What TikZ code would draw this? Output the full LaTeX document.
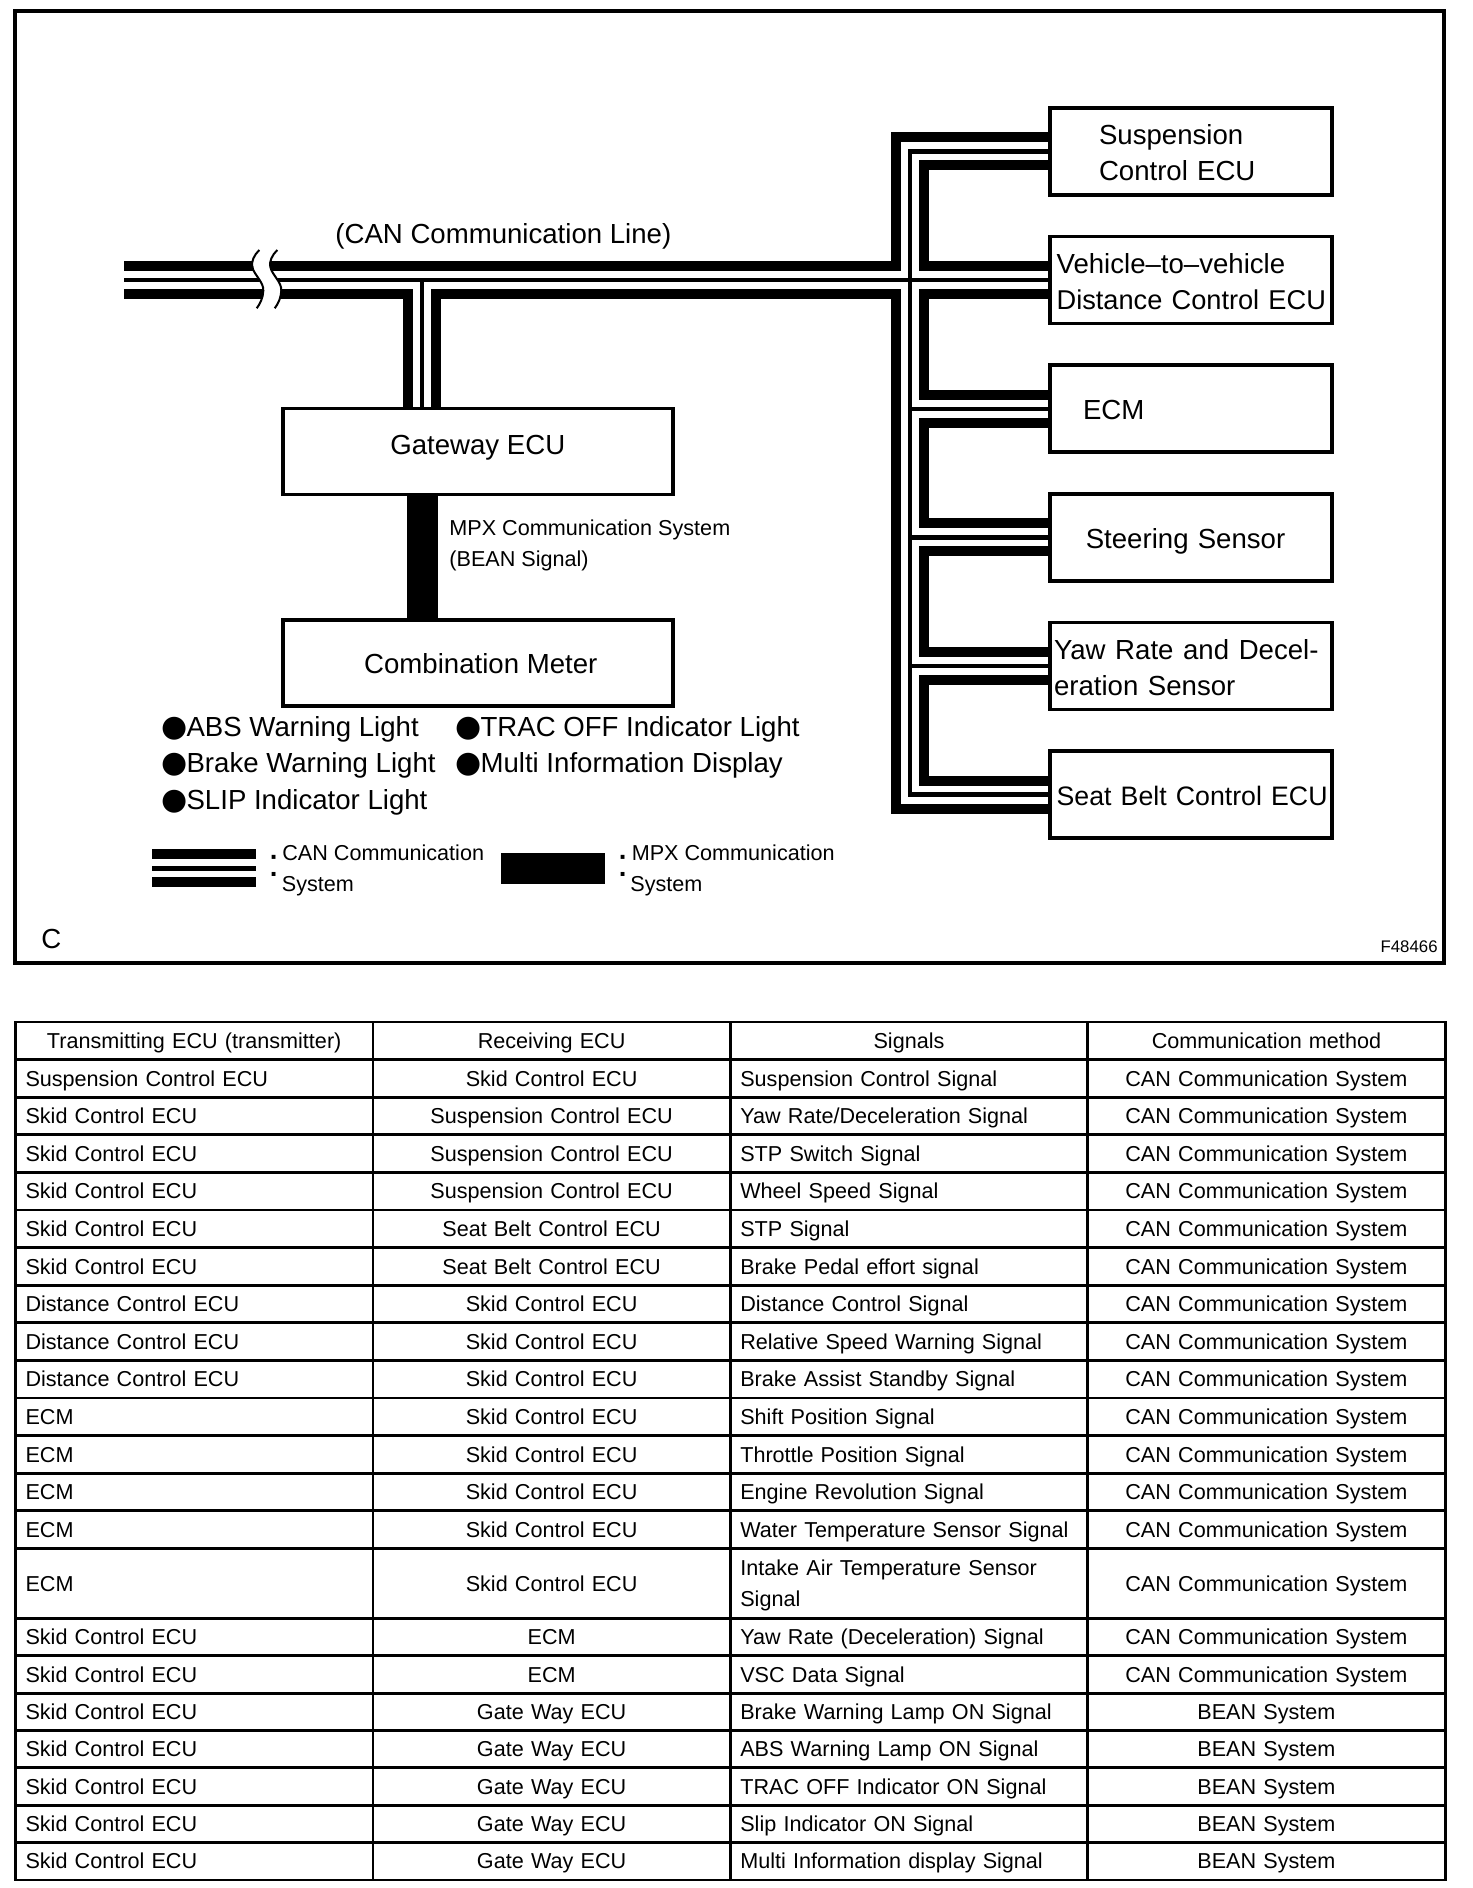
\documentclass[tikz,border=0pt]{standalone}
\usepackage{fontspec}
\setmainfont{Liberation Sans}
\newfontfamily\symbolfont{DejaVu Sans}
\usetikzlibrary{positioning}

\newcommand{\labelfont}{\fontsize{13.8}{18}\selectfont}
\newcommand{\smallfont}{\fontsize{10.8}{15.6}\selectfont}
\newcommand{\lampdot}{\raisebox{-0.1pt}{\fontsize{15}{15}\symbolfont ●}\hspace{-0.5pt}}
\newcommand{\breakwave}{(259.3,250) .. controls (254,255) and (251,262) .. (252.3,267) .. controls (254,275) and (264,282) .. (263.3,291) .. controls (263,298) and (260,304) .. (256.7,308.3)}

% one line of the table: name, line above, height, four cells
\newcommand{\tablerow}[7]{
    \node[cellL, minimum height=#3, below=0pt of #2a] (#1a) {#4};
    \node[cellC, minimum height=#3, right=0pt of #1a] (#1b) {#5};
    \node[cellL, minimum height=#3, right=0pt of #1b] (#1c) {#6};
    \node[cellC, minimum height=#3, right=0pt of #1c] (#1d) {#7};
}

\begin{document}
\begin{tikzpicture}[
            x=0.5pt, y=-0.5pt,
            node distance=20.8pt,
            unitbox/.style={draw, line width=1.8pt, outer sep=0pt, inner ysep=0pt, inner xsep=#1, text width=141pt-2*#1, minimum height=43.5pt, align=left, font=\labelfont,
                execute at begin node=\rule{0pt}{14.6pt}, execute at end node=\rule[-3.5pt]{0pt}{0pt}},
            busbox/.style={draw, line width=1.8pt, outer sep=0pt, inner ysep=0pt, minimum width=195pt, minimum height=43pt, align=center, font=\labelfont,
                execute at begin node=\rule{0pt}{14pt}, execute at end node=\rule[-3.5pt]{0pt}{0pt}},
            canthick/.style={line width=5pt},
            canthin/.style={line width=2.2pt},
            mpxline/.style={line width=15.5pt},
            title/.style={anchor=base west, inner sep=0pt, font=\labelfont},
            note/.style={anchor=base west, inner sep=0pt, font=\smallfont},
            colondot/.style={inner sep=0pt, font=\fontsize{20}{20}\selectfont},
            cell/.style={draw, line width=1.4pt, outer sep=0pt, inner xsep=5pt, inner ysep=0pt, text width=168.7pt, font=\smallfont,
                execute at begin node=\rule{0pt}{12pt}, execute at end node=\rule[-4.4pt]{0pt}{0pt}},
            cellL/.style={cell, align=left},
            cellC/.style={cell, align=center}
        ]
            \useasboundingbox (0,0) rectangle (1472,1888);

            \draw[line width=2pt] (14.5,11) rectangle (1444,962.5);

            \node[unitbox=24.6pt] (susp) at (1190.8,151.5) {Suspension\\Control ECU};
            \node[unitbox=3.4pt, below=of susp] (dist) {Vehicle–to–vehicle\\\mbox{\fontsize{13.6}{18}\selectfont Distance Control ECU}};
            \node[unitbox=16.6pt, below=of dist] (ecm) {ECM};
            \node[unitbox=18pt, below=of ecm] (steer) {Steering Sensor};
            \node[unitbox=2.1pt, below=of steer] (yaw) {\spaceskip=4.8pt Yaw Rate and Decel-\\eration Sensor};
            \node[unitbox=3.4pt, below=of yaw] (seat) {\mbox{\fontsize{13.35}{18}\selectfont Seat Belt Control ECU}};

            \node[busbox] (gateway) at (477.8,451.4) {Gateway ECU\rule[-11pt]{0pt}{0pt}};
            \node[busbox, below=62.9pt of gateway] (meter) {\hspace*{3pt}Combination Meter};

            \coordinate (canEnd) at (124,0);
            \coordinate (canTap) at (422,0);
            \coordinate (tapLeft) at (408,0);
            \coordinate (tapRight) at (436,0);
            \coordinate (busOuter) at (896,0);
            \coordinate (busMid) at (910,0);
            \coordinate (busInner) at (924,0);
            \foreach \b in {susp,dist,ecm,steer,yaw,seat} {
                \coordinate (\b Up) at ([yshift=7pt]\b.west);
                \coordinate (\b Dn) at ([yshift=-7pt]\b.west);
            }

            % thick lines of the bus
            \draw[canthick] (canEnd |- distUp) -- (busOuter |- distUp) |- (suspUp);
            \draw[canthick] (canEnd |- distDn) -| (tapLeft |- gateway.north);
            \draw[canthick] (tapRight |- gateway.north) |- (busOuter |- distDn) |- (seatDn);
            \foreach \a/\b in {susp/dist, dist/ecm, ecm/steer, steer/yaw, yaw/seat}
                \draw[canthick] (\a Dn) -- (busInner |- \a Dn) |- (\b Up);

            % thin line of the bus
            \draw[canthin] (canEnd |- dist.west) -- (dist.west);
            \draw[canthin] (canTap |- dist.west) -- (canTap |- gateway.north);
            \draw[canthin] (susp.west) -- (busMid |- susp.west) -- (busMid |- seat.west) -- (seat.west);
            \foreach \b in {ecm,steer,yaw}
                \draw[canthin] (busMid |- \b.west) -- (\b.west);

            \draw[mpxline] (canTap |- gateway.south) -- (canTap |- meter.north);

            % break in the line
            \draw[white, line width=8pt, xshift=4.5pt] \breakwave;
            \draw[line width=1pt] \breakwave;
            \draw[line width=1pt, xshift=9pt] \breakwave;

            \node[title] (canTitle) at (335,244) {(CAN Communication Line)};
            \node[note] (mpxTitle) at (449,535) {MPX Communication System};
            \node[note] (beanTitle) at (449,566) {(BEAN Signal)};

            \node[title] (lampAbs) at (161,736) {\lampdot ABS Warning Light};
            \node[title] (lampBrake) at (161,772.7) {\lampdot Brake Warning Light};
            \node[title] (lampSlip) at (161,809) {\lampdot SLIP Indicator Light};
            \node[title] (lampTrac) at (455,736) {\lampdot TRAC OFF Indicator Light};
            \node[title] (lampMulti) at (455,772.7) {\lampdot Multi Information Display};

            % legend
            \coordinate (keyA) at (152,868.3);
            \coordinate (keyB) at (256,868.3);
            \draw[canthick] ([yshift=7pt]keyA) -- ([yshift=7pt]keyB);
            \draw[canthin] (keyA) -- (keyB);
            \draw[canthick] ([yshift=-7pt]keyA) -- ([yshift=-7pt]keyB);
            \node[colondot] (canColon) at (274,866) {:};
            \node[note] (canKey) at (282,860.7) {CAN Communication};
            \node[note] (canKeyB) at (281.5,891) {System};

            \node[fill=black, inner sep=0pt, minimum width=52pt, minimum height=15.5pt] (mpxKey) at (553,868.2) {};
            \node[colondot] (mpxColon) at (622.7,866) {:};
            \node[note] (mpxKeyA) at (631.4,860.7) {MPX Communication};
            \node[note] (mpxKeyB) at (630,891) {System};

            \node[title] (figC) at (41,948) {C};
            \node[anchor=base east, inner sep=0pt, font=\fontsize{8.4}{10}\selectfont] (figNo) at (1438,952.7) {F48466};

            % table
            \node[cellC, minimum height=18.8pt, anchor=north west] (r0a) at (15.5,1022) {Transmitting ECU (transmitter)};
            \node[cellC, minimum height=18.8pt, right=0pt of r0a] (r0b) {Receiving ECU};
            \node[cellC, minimum height=18.8pt, right=0pt of r0b] (r0c) {Signals};
            \node[cellC, minimum height=18.8pt, right=0pt of r0c] (r0d) {Communication method};
            \tablerow{r1}{r0}{18.8pt}{Suspension Control ECU}{Skid Control ECU}{Suspension Control Signal}{CAN Communication System}
            \tablerow{r2}{r1}{18.8pt}{Skid Control ECU}{Suspension Control ECU}{Yaw Rate/Deceleration Signal}{CAN Communication System}
            \tablerow{r3}{r2}{18.8pt}{Skid Control ECU}{Suspension Control ECU}{STP Switch Signal}{CAN Communication System}
            \tablerow{r4}{r3}{18.8pt}{Skid Control ECU}{Suspension Control ECU}{Wheel Speed Signal}{CAN Communication System}
            \tablerow{r5}{r4}{18.8pt}{Skid Control ECU}{Seat Belt Control ECU}{STP Signal}{CAN Communication System}
            \tablerow{r6}{r5}{18.8pt}{Skid Control ECU}{Seat Belt Control ECU}{Brake Pedal effort signal}{CAN Communication System}
            \tablerow{r7}{r6}{18.8pt}{Distance Control ECU}{Skid Control ECU}{Distance Control Signal}{CAN Communication System}
            \tablerow{r8}{r7}{18.8pt}{Distance Control ECU}{Skid Control ECU}{Relative Speed Warning Signal}{CAN Communication System}
            \tablerow{r9}{r8}{18.8pt}{Distance Control ECU}{Skid Control ECU}{Brake Assist Standby Signal}{CAN Communication System}
            \tablerow{r10}{r9}{18.8pt}{ECM}{Skid Control ECU}{Shift Position Signal}{CAN Communication System}
            \tablerow{r11}{r10}{18.8pt}{ECM}{Skid Control ECU}{Throttle Position Signal}{CAN Communication System}
            \tablerow{r12}{r11}{18.8pt}{ECM}{Skid Control ECU}{Engine Revolution Signal}{CAN Communication System}
            \tablerow{r13}{r12}{18.8pt}{ECM}{Skid Control ECU}{Water Temperature Sensor Signal}{CAN Communication System}
            \tablerow{r14}{r13}{35pt}{ECM}{Skid Control ECU}{Intake Air Temperature Sensor\\Signal}{CAN Communication System}
            \tablerow{r15}{r14}{18.68pt}{Skid Control ECU}{ECM}{Yaw Rate (Deceleration) Signal}{CAN Communication System}
            \tablerow{r16}{r15}{18.68pt}{Skid Control ECU}{ECM}{VSC Data Signal}{CAN Communication System}
            \tablerow{r17}{r16}{18.68pt}{Skid Control ECU}{Gate Way ECU}{Brake Warning Lamp ON Signal}{BEAN System}
            \tablerow{r18}{r17}{18.68pt}{Skid Control ECU}{Gate Way ECU}{ABS Warning Lamp ON Signal}{BEAN System}
            \tablerow{r19}{r18}{18.68pt}{Skid Control ECU}{Gate Way ECU}{TRAC OFF Indicator ON Signal}{BEAN System}
            \tablerow{r20}{r19}{18.68pt}{Skid Control ECU}{Gate Way ECU}{Slip Indicator ON Signal}{BEAN System}
            \tablerow{r21}{r20}{18.68pt}{Skid Control ECU}{Gate Way ECU}{Multi Information display Signal}{BEAN System}
        \end{tikzpicture}
\end{document}
